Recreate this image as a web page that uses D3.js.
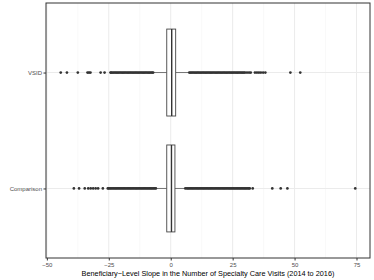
<!DOCTYPE html>
<html>
<head>
<meta charset="utf-8">
<script src="https://cdn.jsdelivr.net/npm/d3@7"></script>
<style>
  body { margin: 0; background: #fff; }
  text { font-family: "Liberation Sans", Arial, sans-serif; }
</style>
</head>
<body>
<svg></svg>
<script>
const width = 374;
const height = 280;

// groups, top to bottom
const groups = ["VSID", "Comparison"];

// box stats per group: lower whisker, q1, median, q3, upper whisker
const whiskerLow = [-6.9, -5.8];
const q1 = [-1.6, -1.6];
const median = [0.4, 0.3];
const q3 = [2.0, 1.7];
const whiskerHigh = [7.2, 5.7];

// outliers
const vsidOutliers = [
  -44.4, -41.9, -37.5, -33.6, -33.0, -32.4, -28.3, -26.7,
  -24.3, -24, -23.5, -23, -22.5, -22, -21.5, -21, -20.5, -20, -19.5, -19, -18.5, -18,
  -17.5, -17, -16.5, -16, -15.5, -15, -14.5, -14, -13.5, -13, -12.5, -12, -11.5, -11,
  -10.5, -10, -9.5, -9, -8.5, -8, -7.5, -7.1,
  7.5, 8, 8.5, 9, 9.5, 10, 10.5, 11, 11.5, 12, 12.5, 13, 13.5, 14, 14.5, 15, 15.5, 16,
  16.5, 17, 17.5, 18, 18.5, 19, 19.5, 20, 20.5, 21, 21.5, 22, 22.5, 23, 23.5, 24, 24.5,
  25, 25.5, 26, 26.5, 27, 27.5, 28, 28.5, 29, 29.5, 30,
  30.8, 31.6, 32.3, 34.0, 34.8, 35.6, 36.4, 37.3, 38.2, 48.3, 52.3
];
const comparisonOutliers = [
  -39.1, -37.0, -34.7, -33.3, -32.3, -31.3, -30.3, -29.3, -27.4,
  -25.4, -25, -24.5, -24, -23.5, -23, -22.5, -22, -21.5, -21, -20.5, -20, -19.5, -19,
  -18.5, -18, -17.5, -17, -16.5, -16, -15.5, -15, -14.5, -14, -13.5, -13, -12.5, -12,
  -11.5, -11, -10.5, -10, -9.5, -9, -8.5, -8, -7.5, -7, -6.5, -6,
  5.9, 6.5, 7, 7.5, 8, 8.5, 9, 9.5, 10, 10.5, 11, 11.5, 12, 12.5, 13, 13.5, 14, 14.5, 15,
  15.5, 16, 16.5, 17, 17.5, 18, 18.5, 19, 19.5, 20, 20.5, 21, 21.5, 22, 22.5, 23, 23.5,
  24, 24.5, 25, 25.5, 26, 26.5, 27, 27.5, 28, 28.5, 29, 29.5, 30, 30.5, 31, 31.5, 31.9,
  33.1, 41.0, 44.4, 47.1, 74.5
];
const outliers = [vsidOutliers, comparisonOutliers];

const xTicks = [-50, -25, 0, 25, 50, 75];
const xMinor = [-37.5, -12.5, 12.5, 37.5, 62.5];
const xTitle = "Beneficiary\u2212Level Slope in the Number of Specialty Care Visits (2014 to 2016)";

const panel = { left: 46, right: 370, top: 3, bottom: 258 };

const svg = d3.select("svg")
  .attr("width", width)
  .attr("height", height);

const x = d3.scaleLinear()
  .domain([-50.35, 80.45])
  .range([panel.left, panel.right]);

const y = d3.scalePoint()
  .domain(groups)
  .range([panel.top, panel.bottom])
  .padding(0.6);

const boxHalf = y.step() * 0.375;

// grid
svg.append("g").selectAll("line")
  .data(xMinor)
  .enter().append("line")
  .attr("x1", d => x(d)).attr("x2", d => x(d))
  .attr("y1", panel.top).attr("y2", panel.bottom)
  .attr("stroke", "#f2f2f2").attr("stroke-width", 0.5);

svg.append("g").selectAll("line")
  .data(xTicks)
  .enter().append("line")
  .attr("x1", d => x(d)).attr("x2", d => x(d))
  .attr("y1", panel.top).attr("y2", panel.bottom)
  .attr("stroke", "#ebebeb").attr("stroke-width", 1);

svg.append("g").selectAll("line")
  .data(groups)
  .enter().append("line")
  .attr("x1", panel.left).attr("x2", panel.right)
  .attr("y1", d => y(d)).attr("y2", d => y(d))
  .attr("stroke", "#ebebeb").attr("stroke-width", 1);

// boxes
const box = svg.append("g").selectAll("g")
  .data(groups)
  .enter().append("g");

box.append("line")
  .attr("x1", (d, i) => x(whiskerLow[i])).attr("x2", (d, i) => x(q1[i]))
  .attr("y1", d => y(d)).attr("y2", d => y(d))
  .attr("stroke", "#555").attr("stroke-width", 0.8);

box.append("line")
  .attr("x1", (d, i) => x(q3[i])).attr("x2", (d, i) => x(whiskerHigh[i]))
  .attr("y1", d => y(d)).attr("y2", d => y(d))
  .attr("stroke", "#555").attr("stroke-width", 0.8);

box.append("rect")
  .attr("x", (d, i) => x(q1[i]))
  .attr("width", (d, i) => x(q3[i]) - x(q1[i]))
  .attr("y", d => y(d) - boxHalf)
  .attr("height", boxHalf * 2)
  .attr("fill", "#fff")
  .attr("stroke", "#444").attr("stroke-width", 0.9);

box.append("line")
  .attr("x1", (d, i) => x(median[i])).attr("x2", (d, i) => x(median[i]))
  .attr("y1", d => y(d) - boxHalf).attr("y2", d => y(d) + boxHalf)
  .attr("stroke", "#333").attr("stroke-width", 1.4);

box.each(function (d, i) {
  d3.select(this).selectAll("circle")
    .data(outliers[i])
    .enter().append("circle")
    .attr("cx", v => x(v))
    .attr("cy", y(d))
    .attr("r", 1.35)
    .attr("fill", "#333");
});

// panel border
svg.append("rect")
  .attr("x", panel.left).attr("y", panel.top)
  .attr("width", panel.right - panel.left)
  .attr("height", panel.bottom - panel.top)
  .attr("fill", "none")
  .attr("stroke", "#333").attr("stroke-width", 1);

// x axis
const xAxis = svg.append("g")
  .attr("transform", `translate(0,${panel.bottom})`)
  .call(d3.axisBottom(x).tickValues(xTicks).tickSize(2.5).tickPadding(2).tickFormat(d3.format("d")));
xAxis.select(".domain").remove();
xAxis.selectAll("line").attr("stroke", "#333");
xAxis.selectAll("text").attr("fill", "#4d4d4d").attr("font-size", 6)
  .attr("font-family", "'Liberation Sans', Arial, sans-serif");

// y axis
const yAxis = svg.append("g")
  .attr("transform", `translate(${panel.left},0)`)
  .call(d3.axisLeft(y).tickSize(2.5).tickPadding(1.5));
yAxis.select(".domain").remove();
yAxis.selectAll("line").attr("stroke", "#333");
yAxis.selectAll("text").attr("fill", "#4d4d4d").attr("font-size", 6)
  .attr("font-family", "'Liberation Sans', Arial, sans-serif");

svg.append("text")
  .attr("x", (panel.left + panel.right) / 2)
  .attr("y", 276)
  .attr("text-anchor", "middle")
  .attr("font-size", 7.3)
  .attr("fill", "#000")
  .text(xTitle);
</script>
</body>
</html>
